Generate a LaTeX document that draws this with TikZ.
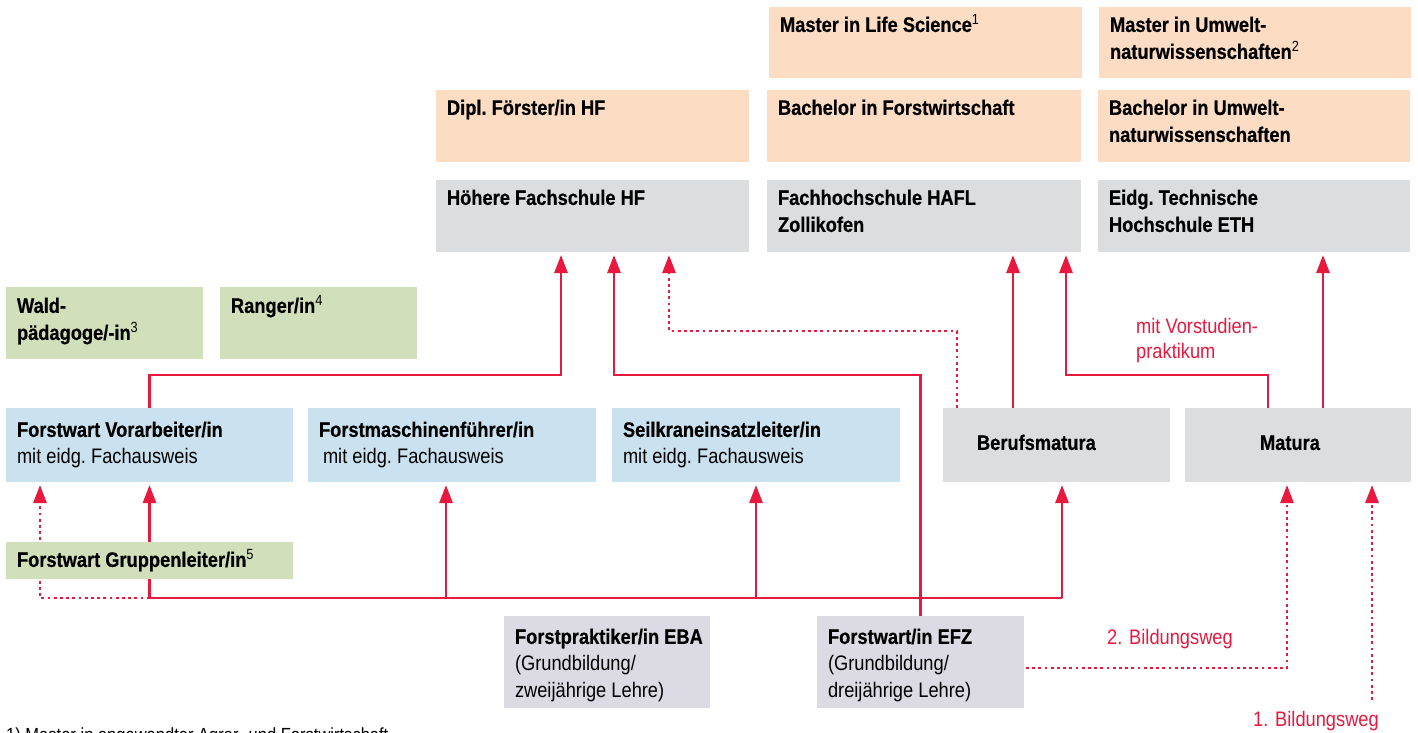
\documentclass[tikz,border=0pt]{standalone}
\usepackage{fontspec}
\setmainfont{Liberation Sans}[FakeStretch=0.87, BoldFeatures={FakeBold=0.5}]
\usetikzlibrary{arrows.meta}
\definecolor{linered}{HTML}{E8193F}
\definecolor{peachfill}{HTML}{FCDDC4}
\definecolor{greyfill}{HTML}{DCDDDF}
\definecolor{greenfill}{HTML}{D1E0BB}
\definecolor{bluefill}{HTML}{CAE2EF}
\definecolor{lilacfill}{HTML}{DCDAE3}
\newcommand{\boxtext}[4]{\parbox[t][#2pt][t]{#1pt}{\raggedright\frenchspacing\leftskip=11pt\vspace*{#3pt}\strut#4}}
\tikzset{
  card/.style={anchor=north west, inner sep=0pt, outer sep=0pt,
    font=\fontsize{21}{27}\selectfont},
  peach/.style={card, fill=peachfill},
  grey/.style={card, fill=greyfill},
  green/.style={card, fill=greenfill},
  blue/.style={card, fill=bluefill},
  lilac/.style={card, fill=lilacfill},
  link/.style={draw=linered, line width=2.8pt},
  dots/.style={dash pattern=on 2.8pt off 3.4pt},
  tip/.style={-{Triangle[width=13pt,length=18pt]}, shorten >=3pt},
  note/.style={anchor=north west, inner sep=0pt, align=left, text=linered,
    font=\fontsize{21}{25}\selectfont}
}
\begin{document}
\begin{tikzpicture}[x=1pt,y=-1pt]
  \useasboundingbox (0,0) rectangle (1418,733);
  \clip (0,0) rectangle (1418,733);
  \node[peach] (mls) at (769,7) {\boxtext{313}{71}{6}{\textbf{Master in Life Science}\textsuperscript{1}}};
  \node[peach] (mun) at (1099,7) {\boxtext{312}{71}{6}{\textbf{Master in Umwelt-\\naturwissenschaften}\textsuperscript{2}}};
  \node[peach] (dfhf) at (436,90) {\boxtext{313}{72}{6}{\textbf{Dipl. Förster/in HF}}};
  \node[peach] (bfw) at (767,90) {\boxtext{314}{72}{6}{\textbf{Bachelor in Forstwirtschaft}}};
  \node[peach] (bun) at (1098,90) {\boxtext{312}{72}{6}{\textbf{Bachelor in Umwelt-\\naturwissenschaften}}};
  \node[grey] (hf) at (436,180) {\boxtext{313}{72}{6}{\textbf{Höhere Fachschule HF}}};
  \node[grey] (hafl) at (767,180) {\boxtext{314}{72}{6}{\textbf{Fachhochschule HAFL\\Zollikofen}}};
  \node[grey] (eth) at (1098,180) {\boxtext{312}{72}{6}{\textbf{Eidg. Technische\\Hochschule ETH}}};
  \node[green] (wald) at (6,287) {\boxtext{197}{72}{7}{\textbf{Wald-\\pädagoge/-in}\textsuperscript{3}}};
  \node[green] (ranger) at (220,287) {\boxtext{197}{72}{7}{\textbf{Ranger/in}\textsuperscript{4}}};
  \node[blue] (fvo) at (6,408) {\boxtext{287}{74}{10}{\textbf{Forstwart Vorarbeiter/in}\\mit eidg. Fachausweis}};
  \node[blue] (fmf) at (308,408) {\boxtext{288}{74}{10}{\textbf{Forstmaschinenführer/in}\\\hspace*{4pt}mit eidg. Fachausweis}};
  \node[blue] (skl) at (612,408) {\boxtext{288}{74}{10}{\textbf{Seilkraneinsatzleiter/in}\\mit eidg. Fachausweis}};
  \node[grey] (bm) at (943,408) {\boxtext{227}{74}{23}{\hspace*{23pt}\textbf{Berufsmatura}}};
  \node[grey] (mat) at (1185,408) {\boxtext{226}{74}{23}{\hspace*{64pt}\textbf{Matura}}};
  \node[lilac] (fpe) at (504,616) {\boxtext{206}{92}{9}{\textbf{Forstpraktiker/in EBA}\\(Grundbildung/\\zweijährige Lehre)}};
  \node[lilac] (efz) at (817,616) {\boxtext{207}{92}{9}{\textbf{Forstwart/in EFZ}\\(Grundbildung/\\dreijährige Lehre)}};
  \coordinate (busl) at (fvo.south |- 0,598);
  \coordinate (busm) at (446,598);
  \coordinate (busr) at (1062,598);
  \coordinate (weg1) at (1372,700);
  \begin{scope}[link]
    \draw (busl) -- (busr);
    \draw[tip] (busl) -- (fvo.south);
    \draw[tip] (busm) -- ([xshift=138pt]fmf.south west);
    \draw[tip] (busl -| skl.south) -- (skl.south);
    \draw[tip] (busr) -- ([xshift=119pt]bm.south west);
    \draw[dots,tip] (busl) -| ([xshift=34pt]fvo.south west);
    \draw[tip] (fvo.north) -- ++(0,-33) -| ([xshift=125pt]hf.south west);
    \draw[tip] (efz.north) -- ++(0,-241) -| ([xshift=178pt]hf.south west);
    \draw[dots,tip] ([xshift=14pt]bm.north west) -- ++(0,-77) -| ([xshift=233pt]hf.south west);
    \draw[tip] ([xshift=70pt]bm.north west) -- ([xshift=246pt]hafl.south west);
    \draw[tip] ([xshift=83pt]mat.north west) -- ++(0,-33) -| ([xshift=299pt]hafl.south west);
    \draw[tip] ([xshift=138pt]mat.north west) -- ([xshift=225pt]eth.south west);
    \draw[dots,tip] ([xshift=2pt,yshift=-6pt]efz.east) -| ([xshift=102pt]mat.south west);
    \draw[dots,tip] (weg1) -- ([xshift=187pt]mat.south west);
  \end{scope}
  \node[green] (fgl) at (6,542) {\boxtext{287}{37}{6}{\textbf{Forstwart Gruppenleiter/in}\textsuperscript{5}}};
  \node[note] (vorst) at (1136,318) {mit Vorstudien-\\praktikum};
  \node[note] (weg2) at (1107,629) {2. Bildungsweg};
  \node[note] (weg1text) at (1253,711) {1. Bildungsweg};
  \node[anchor=north west, inner sep=0pt, font=\fontsize{19}{23}\selectfont] (fn1) at (6,728) {1) Master in angewandter Agrar- und Forstwirtschaft};
\end{tikzpicture}
\end{document}
